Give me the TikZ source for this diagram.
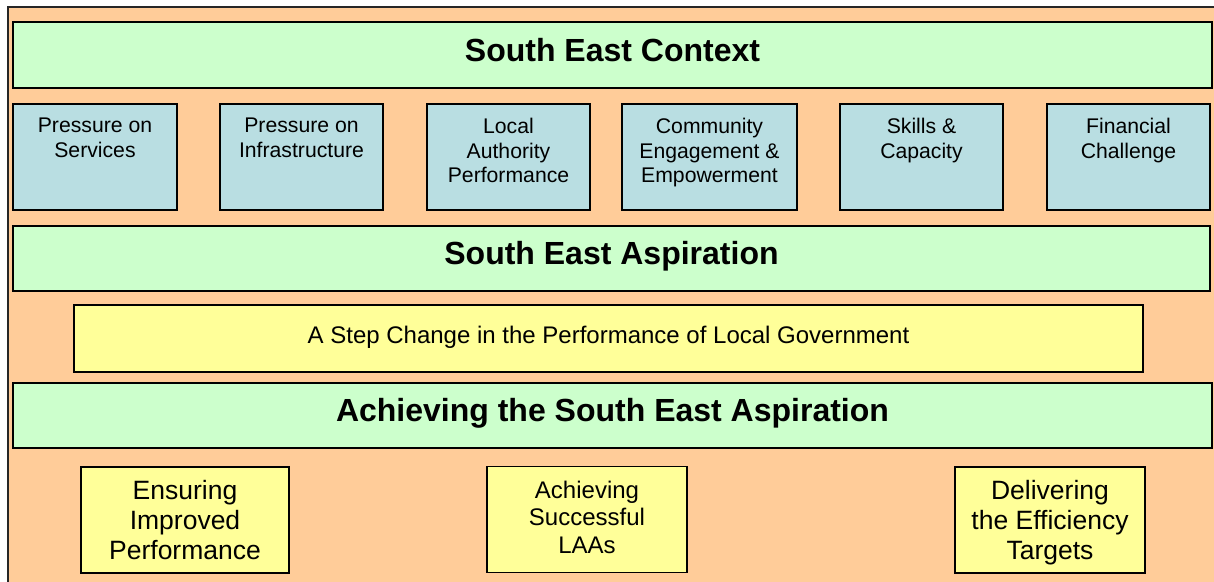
\documentclass[tikz,border=0pt]{standalone}
\usepackage{fontspec}
\setmainfont{Liberation Sans}
\definecolor{framepeach}{RGB}{255,204,153}
\definecolor{bandgreen}{RGB}{204,255,204}
\definecolor{issueblue}{RGB}{185,222,226}
\definecolor{goalyellow}{RGB}{255,255,153}
\begin{document}
\begin{tikzpicture}[x=1pt,y=-1pt,
  box/.style={draw=black, line width=1.8pt, inner sep=0pt, outer sep=0pt, align=center},
  band/.style={box, fill=bandgreen, minimum height=66pt, text height=23pt, text depth=11pt,
    font=\bfseries\fontsize{32}{36}\selectfont},
  issue/.style={box, fill=issueblue, minimum height=106pt},
  issuetext/.style={anchor=north, yshift=-14pt, align=center, inner sep=0pt, font=\fontsize{21.2}{24.5}\selectfont},
  aim/.style={box, fill=goalyellow, minimum width=1069pt, minimum height=67pt, text height=17pt, text depth=8pt,
    font=\fontsize{24}{28}\selectfont},
  goal/.style={box, fill=goalyellow, minimum height=106pt, text depth=0pt, font=\fontsize{26.5}{30}\selectfont},
  goalsmall/.style={box, fill=goalyellow, minimum height=106pt, text depth=5pt, font=\fontsize{24}{27.5}\selectfont}
]
\useasboundingbox (0,0) rectangle (1214,581);

% peach backdrop with its frame, running past the right and bottom edges
\begin{scope}
  \clip (0,0) rectangle (1214,581);
  \draw[draw=black!85, line width=1.8pt, fill=framepeach] (8,7) rectangle (1240,610);
\end{scope}

% context band and the six pressures
\node[band, minimum width=1199pt] (context) at (612.5,55) {South East Context};

\node[issue, minimum width=164pt] (p1) at (95,157) {};
\node[issue, minimum width=163pt] (p2) at (301.5,157) {};
\node[issue, minimum width=163pt] (p3) at (508.5,157) {};
\node[issue, minimum width=175pt] (p4) at (709.5,157) {};
\node[issue, minimum width=163pt] (p5) at (921.5,157) {};
\node[issue, minimum width=163pt] (p6) at (1128.5,157) {};

\node[issuetext] (p1t) at (p1.north) {Pressure on\\Services};
\node[issuetext] (p2t) at (p2.north) {Pressure on\\Infrastructure};
\node[issuetext] (p3t) at (p3.north) {Local\\Authority\\Performance};
\node[issuetext] (p4t) at (p4.north) {Community\\Engagement \&\\Empowerment};
\node[issuetext] (p5t) at (p5.north) {Skills \&\\Capacity};
\node[issuetext] (p6t) at (p6.north) {Financial\\Challenge};

% aspiration
\node[band, minimum width=1197pt, minimum height=65pt] (aspiration) at (611.5,258.5) {South East Aspiration};
\node[aim] (stepchange) at (608.5,338.5) {A Step Change in the Performance of Local Government};

% delivery
\node[band, minimum width=1199pt, minimum height=65pt] (achieving) at (612.5,415.5) {Achieving the South East Aspiration};

\node[goal, minimum width=208pt] (g1) at (185,520) {Ensuring\\Improved\\Performance};
\node[goalsmall, minimum width=200pt] (g2) at (587,519.5) {Achieving\\Successful\\LAAs};
\node[goal, minimum width=190pt] (g3) at (1050,520) {Delivering\\the Efficiency\\Targets};
\end{tikzpicture}
\end{document}
